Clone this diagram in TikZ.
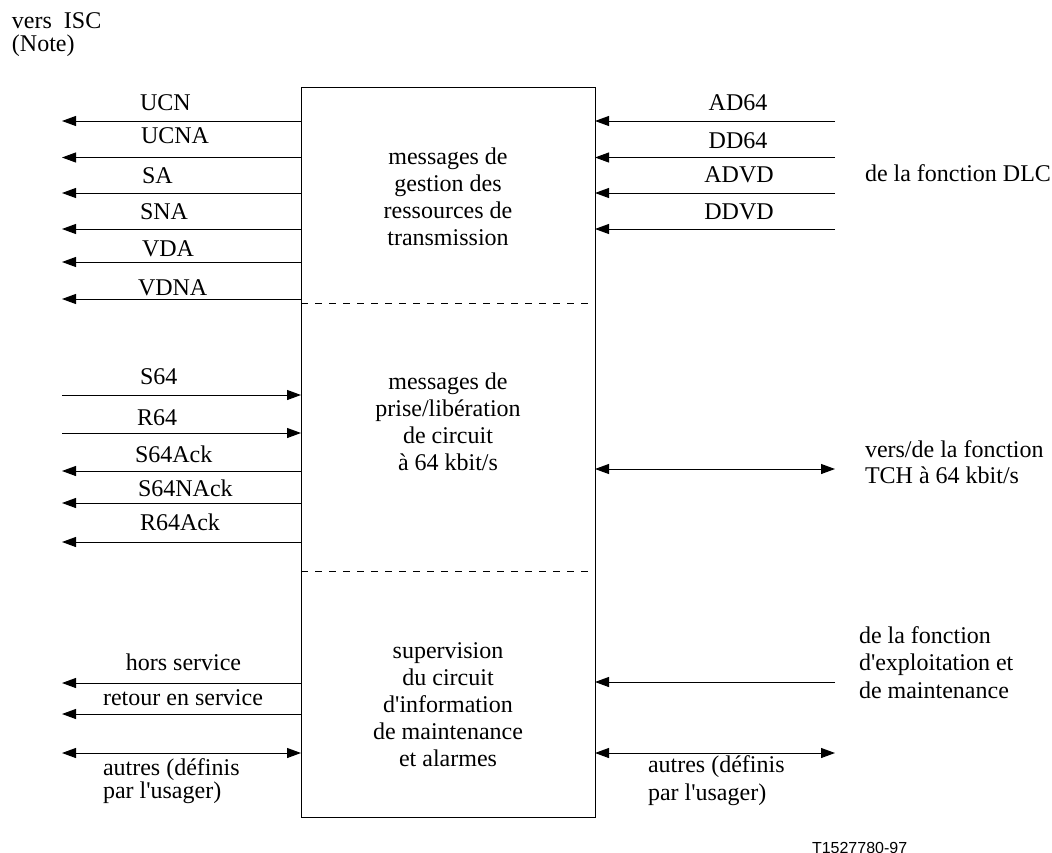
\documentclass[tikz,border=0pt]{standalone}
\usepackage{fontspec}
\setmainfont{Liberation Serif}
\newfontfamily\tagfont{Liberation Sans}
\usetikzlibrary{arrows.meta}
\newcommand\fl{\rule{0pt}{18pt}}
\newcommand\ap{\textquotesingle}
\begin{document}
\begin{tikzpicture}[x=1pt,y=-1pt,
  every node/.style={inner sep=0pt,outer sep=0pt},
  txt/.style={font=\fontsize{24}{27}\selectfont},
  lab/.style={txt,anchor=base west},
  clab/.style={txt,anchor=base},
  msg/.style={line width=1pt,-{Triangle[length=14pt,width=10pt]}},
  bimsg/.style={line width=1pt,{Triangle[length=14pt,width=10pt]}-{Triangle[length=14pt,width=10pt]}},
  sep/.style={line width=0.8pt,dash pattern=on 7pt off 7pt},
]
\useasboundingbox (0,0) rectangle (1052,852);

% main box
\node[draw,line width=1pt,minimum width=294pt,minimum height=730pt,anchor=north west] (box) at (301,87) {};
\coordinate (d1) at (588,303);
\coordinate (d2) at (588,571);
\draw[sep] (box.west |- d1) -- (d1);
\draw[sep] (box.west |- d2) -- (d2);

% box texts
\node[txt,align=center,anchor=north] (t1) at (448,146) {\fl messages de\\gestion des\\ressources de\\transmission};
\node[txt,align=center,anchor=north] (t2) at (448,371) {\fl messages de\\prise/libération\\de circuit\\à 64 kbit/s};
\node[txt,align=center,anchor=north] (t3) at (448,640) {\fl supervision\\du circuit\\d\ap information\\de maintenance\\et alarmes};

% top-left note
\node[font=\fontsize{24}{23}\selectfont,align=left,anchor=north west] (isc) at (12,10) {\fl vers\ \ ISC\\(Note)};

% left top arrows
\coordinate (a1) at (62,121);
\coordinate (a2) at (62,157.5);
\coordinate (a3) at (62,193);
\coordinate (a4) at (62,229);
\coordinate (a5) at (62,262);
\coordinate (a6) at (62,299);
\foreach \c in {a1,a2,a3,a4,a5,a6} \draw[msg] (box.west |- \c) -- (\c);
\node[lab] (lucn) at (140,110) {UCN};
\node[lab] (lucna) at (141,143) {UCNA};
\node[lab] (lsa) at (142,183) {SA};
\node[lab] (lsna) at (140,219.5) {SNA};
\node[lab] (lvda) at (142,256) {VDA};
\node[lab] (lvdna) at (138,295) {VDNA};

% right top arrows
\coordinate (b1) at (835,121);
\coordinate (b2) at (835,157.5);
\coordinate (b3) at (835,193);
\coordinate (b4) at (835,229);
\foreach \c in {b1,b2,b3,b4} \draw[msg] (\c) -- (\c -| box.east);
\node[clab] (lad) at (738,110) {AD64};
\node[clab] (ldd) at (738,148) {DD64};
\node[clab] (ladvd) at (739,182) {ADVD};
\node[clab] (lddvd) at (739,219) {DDVD};
\node[lab] (dlc) at (865,181) {de la fonction DLC};

% middle left arrows
\coordinate (c1) at (62,395);
\coordinate (c2) at (62,433);
\coordinate (c3) at (62,471);
\coordinate (c4) at (62,503);
\coordinate (c5) at (62,542);
\draw[msg] (c1) -- (c1 -| box.west);
\draw[msg] (c2) -- (c2 -| box.west);
\foreach \c in {c3,c4,c5} \draw[msg] (box.west |- \c) -- (\c);
\node[lab] (ls64) at (140,384) {S64};
\node[lab] (lr64) at (137,425) {R64};
\node[lab] (ls64a) at (135,462) {S64Ack};
\node[lab] (ls64na) at (138,496) {S64NAck};
\node[lab] (lr64a) at (140,530) {R64Ack};

% middle right
\coordinate (e1) at (835,469);
\draw[bimsg] (box.east |- e1) -- (e1);
\node[font=\fontsize{24}{26}\selectfont,align=left,anchor=north west] (tch) at (865,439) {\fl vers/de la fonction\\TCH à 64 kbit/s};

% bottom left
\coordinate (f1) at (62,683);
\coordinate (f2) at (62,714);
\coordinate (f3) at (62,753);
\draw[msg] (box.west |- f1) -- (f1);
\draw[msg] (box.west |- f2) -- (f2);
\draw[bimsg] (f3) -- (f3 -| box.west);
\node[clab] (lhs) at (183.5,670) {hors service};
\node[clab] (lres) at (183,705) {retour en service};
\node[font=\fontsize{24}{23}\selectfont,align=left,anchor=north west] (lautres) at (103,757) {\fl autres (définis\\par l\ap usager)};

% bottom right
\coordinate (g1) at (835,682);
\coordinate (g2) at (835,753);
\draw[msg] (g1) -- (g1 -| box.east);
\draw[bimsg] (box.east |- g2) -- (g2);
\node[font=\fontsize{24}{27.5}\selectfont,align=left,anchor=north west] (om) at (859,625) {\fl de la fonction\\d\ap exploitation et\\de maintenance};
\node[font=\fontsize{24}{28}\selectfont,align=left,anchor=north west] (rautres) at (648,754) {\fl autres (définis\\par l\ap usager)};

% figure tag
\node[anchor=base west,font=\tagfont\fontsize{16}{16}\selectfont] (tag) at (812,853) {T1527780-97};
\end{tikzpicture}
\end{document}
